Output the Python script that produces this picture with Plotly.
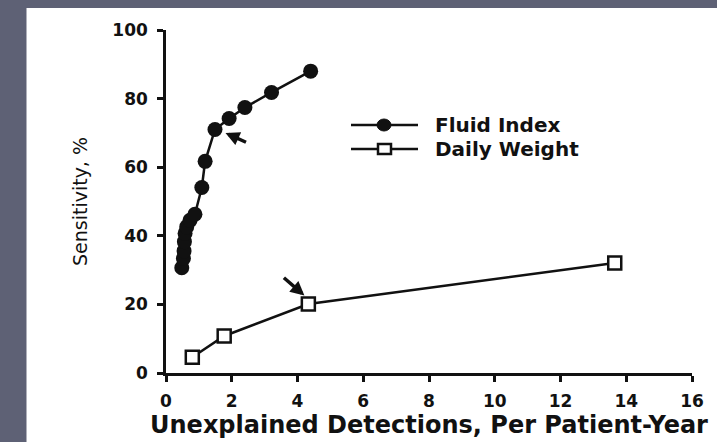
import plotly.graph_objects as go

# ---- data ----
fluid_x = [0.48, 0.53, 0.55, 0.56, 0.58, 0.63, 0.73, 0.88, 1.09, 1.19, 1.49, 1.92, 2.40, 3.21, 4.40]
fluid_y = [30.7, 33.4, 35.6, 38.3, 40.7, 42.6, 44.5, 46.3, 54.1, 61.7, 71.0, 74.2, 77.4, 81.8, 88.0]
weight_x = [0.80, 1.77, 4.33, 13.65]
weight_y = [4.6, 10.8, 20.1, 32.1]
series_names = ["Fluid Index", "Daily Weight"]
x_ticks = [0, 2, 4, 6, 8, 10, 12, 14, 16]
y_ticks = [0, 20, 40, 60, 80, 100]
x_title = "Unexplained Detections, Per Patient-Year"
y_title = "Sensitivity, %"

W, H = 717, 442
ML, MR, MT, MB = 166, 25, 30, 69
PW, PH = W - ML - MR, H - MT - MB


def px(xp):
    return (xp - ML) / PW


def py(yp):
    return (H - MB - yp) / PH


BLACK = "#111111"
tick_font = dict(family="DejaVu Sans", size=17, color=BLACK, weight="bold")

fig = go.Figure()
fig.add_trace(go.Scatter(
    x=fluid_x, y=fluid_y, mode="lines+markers", name=series_names[0],
    line=dict(color=BLACK, width=2.5),
    marker=dict(symbol="circle", size=15, color=BLACK),
    cliponaxis=False, showlegend=False))
fig.add_trace(go.Scatter(
    x=weight_x, y=weight_y, mode="lines+markers", name=series_names[1],
    line=dict(color=BLACK, width=2.5),
    marker=dict(symbol="square", size=13, color="white", line=dict(color=BLACK, width=2.5)),
    cliponaxis=False, showlegend=False))

shapes = []
# white slide panel
shapes.append(dict(type="rect", xref="paper", yref="paper", layer="below",
                   x0=px(26.5), x1=px(W + 5), y0=py(H + 5), y1=py(8),
                   fillcolor="white", line=dict(width=0)))

# custom legend (long line samples, as in the reference)
leg_rows = [(125, "circle"), (149, "square")]
annotations = []
for (ly, kind), name in zip(leg_rows, series_names):
    shapes.append(dict(type="line", xref="paper", yref="paper",
                       x0=px(351), x1=px(418), y0=py(ly), y1=py(ly),
                       line=dict(color=BLACK, width=2.5)))
    if kind == "circle":
        shapes.append(dict(type="circle", xref="paper", yref="paper",
                           x0=px(377), x1=px(391), y0=py(ly + 6), y1=py(ly - 6),
                           fillcolor=BLACK, line=dict(color=BLACK, width=1)))
    else:
        shapes.append(dict(type="rect", xref="paper", yref="paper",
                           x0=px(378), x1=px(391), y0=py(ly + 5), y1=py(ly - 5),
                           fillcolor="white", line=dict(color=BLACK, width=2.5)))
    annotations.append(dict(xref="paper", yref="paper", x=px(433), y=py(ly),
                            xanchor="left", yanchor="middle", showarrow=False,
                            text=name,
                            font=dict(family="DejaVu Sans", size=20, color=BLACK, weight="bold")))

# pointer arrows
annotations.append(dict(x=fluid_x[10] + 0.32, y=fluid_y[10] - 1.0, xref="x", yref="y",
                        ax=22, ay=10, showarrow=True, arrowhead=2, arrowsize=0.8,
                        arrowwidth=3.5, arrowcolor=BLACK, text="", standoff=0))
annotations.append(dict(x=weight_x[2] - 0.12, y=weight_y[2] + 2.5, xref="x", yref="y",
                        ax=-22, ay=-19, showarrow=True, arrowhead=2, arrowsize=0.8,
                        arrowwidth=3.5, arrowcolor=BLACK, text="", standoff=0))

fig.update_layout(
    width=W, height=H,
    margin=dict(l=ML, r=MR, t=MT, b=MB, pad=0, autoexpand=False),
    paper_bgcolor="#5e6175",
    plot_bgcolor="white",
    shapes=shapes,
    annotations=annotations,
    showlegend=False,
)
fig.update_xaxes(
    range=[0, 16], tickvals=x_ticks, ticktext=[str(v) for v in x_ticks],
    showline=True, linecolor=BLACK, linewidth=2.5,
    ticks="outside", ticklen=6, tickwidth=2.5, tickcolor=BLACK,
    tickfont=tick_font, ticklabelstandoff=5,
    showgrid=False, zeroline=False, automargin=False,
    title=dict(text=x_title, standoff=7,
               font=dict(family="DejaVu Sans", size=24, color=BLACK, weight="bold")),
)
fig.update_yaxes(
    range=[0, 100], tickvals=y_ticks, ticktext=[str(v) for v in y_ticks],
    showline=True, linecolor=BLACK, linewidth=2.5,
    ticks="outside", ticklen=6, tickwidth=2.5, tickcolor=BLACK,
    tickfont=tick_font, ticklabelstandoff=6,
    showgrid=False, zeroline=False, automargin=False,
    title=dict(text=y_title, standoff=20,
               font=dict(family="DejaVu Sans", size=19, color=BLACK)),
)

fig.write_html("out.html")
